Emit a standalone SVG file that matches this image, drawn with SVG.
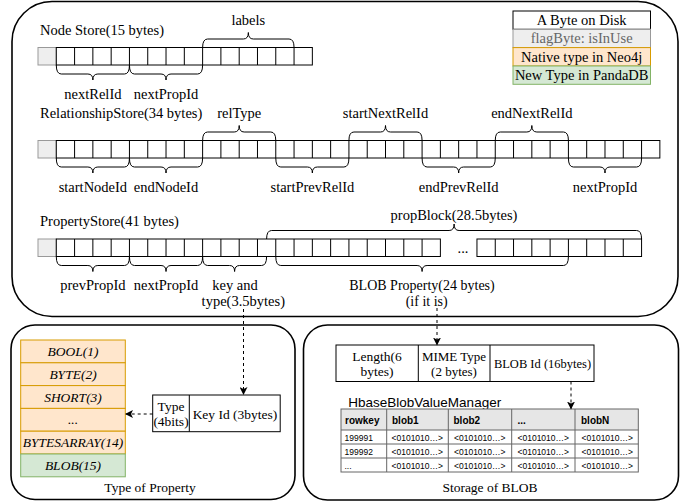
<svg xmlns="http://www.w3.org/2000/svg" width="694" height="502" viewBox="0 0 694 502">
<defs>
<style>
.t{font-family:"Liberation Serif","Times New Roman",serif;font-size:14.5px;fill:#000}
.c{text-anchor:middle}
.it{font-family:"Liberation Serif","Times New Roman",serif;font-size:13.5px;font-style:italic;text-anchor:middle}
.s{font-family:"Liberation Serif","Times New Roman",serif;font-size:13.5px;text-anchor:middle}
.box{fill:none;stroke:#000;stroke-width:1.6}
.cell{fill:#fff;stroke:#000;stroke-width:1}
.ln{fill:none;stroke:#000;stroke-width:1}
.flag{fill:#eeeeee;stroke:#999;stroke-width:1}
.nat{fill:#ffe6cc;stroke:#d79b00;stroke-width:1}
.new{fill:#d5e8d4;stroke:#82b366;stroke-width:1}
.br{fill:none;stroke:#000;stroke-width:1}
.dash{fill:none;stroke:#000;stroke-width:1;stroke-dasharray:3 3}
.th{font-family:"Liberation Sans",Arial,sans-serif;font-size:10px;font-weight:bold}
.td{font-family:"Liberation Sans",Arial,sans-serif;font-size:8.5px}
.tbl{fill:none;stroke:#666;stroke-width:1}
</style>
<marker id="arr" markerWidth="8" markerHeight="8" refX="7" refY="4" orient="auto" markerUnits="userSpaceOnUse">
<path d="M0,0 L8,4 L0,8 L2,4 z" fill="#000"/>
</marker>
</defs>

<g id="disk-layout">
<rect class="box" x="12" y="1.5" width="666" height="315" rx="40"/>
</g>

<g id="legend">
<rect x="513" y="11" width="137.5" height="18.3" fill="#fff" stroke="#000"/>
<rect class="flag" x="513" y="29.3" width="137.5" height="18.3"/>
<rect class="nat" x="513" y="47.6" width="137.5" height="18.4"/>
<rect class="new" x="513" y="66" width="137.5" height="18.3"/>
<text class="t c" x="581.7" y="25">A Byte on Disk</text>
<text class="t c" x="581.7" y="43.3" style="fill:#666">flagByte: isInUse</text>
<text class="t c" x="581.7" y="61.7">Native type in Neo4j</text>
<text class="t c" x="581.7" y="80">New Type in PandaDB</text>
</g>

<g id="node-store">
<text class="t" x="40" y="34.5">Node Store(15 bytes)</text>
<rect class="flag" x="38" y="47.5" width="18.29" height="17.5"/>
<rect class="cell" x="56.29" y="47.5" width="256.06" height="17.5"/>
<path class="ln" d="M74.58 47.5V65M92.87 47.5V65M111.16 47.5V65M129.45 47.5V65M147.74 47.5V65M166.03 47.5V65M184.32 47.5V65M202.61 47.5V65M220.9 47.5V65M239.19 47.5V65M257.48 47.5V65M275.77 47.5V65M294.06 47.5V65"/>
<path class="br" d="M56.29 65 Q56.29 74 61.29 74 H87.87 Q92.87 74 92.87 80 Q92.87 74 97.87 74 H124.45 Q129.45 74 129.45 65"/>
<path class="br" d="M129.45 65 Q129.45 74 134.45 74 H161.03 Q166.03 74 166.03 80 Q166.03 74 171.03 74 H197.61 Q202.61 74 202.61 65"/>
<path class="br" d="M202.61 47.5 Q202.61 39 207.61 39 H243.34 Q248.34 39 248.34 32.5 Q248.34 39 253.34 39 H289.06 Q294.06 39 294.06 47.5"/>
<text class="t c" x="248.3" y="25">labels</text>
<text class="t c" x="92.9" y="98.5">nextRelId</text>
<text class="t c" x="166" y="98.5">nextPropId</text>
</g>

<g id="relationship-store">
<text class="t" x="40" y="118">RelationshipStore(34 bytes)</text>
<rect class="flag" x="38" y="140.5" width="18.29" height="17.5"/>
<rect class="cell" x="56.29" y="140.5" width="603.57" height="17.5"/>
<path class="ln" d="M74.58 140.5V158M92.87 140.5V158M111.16 140.5V158M129.45 140.5V158M147.74 140.5V158M166.03 140.5V158M184.32 140.5V158M202.61 140.5V158M220.9 140.5V158M239.19 140.5V158M257.48 140.5V158M275.77 140.5V158M294.06 140.5V158M312.35 140.5V158M330.64 140.5V158M348.93 140.5V158M367.22 140.5V158M385.51 140.5V158M403.8 140.5V158M422.09 140.5V158M440.38 140.5V158M458.67 140.5V158M476.96 140.5V158M495.25 140.5V158M513.54 140.5V158M531.83 140.5V158M550.12 140.5V158M568.41 140.5V158M586.7 140.5V158M604.99 140.5V158M623.28 140.5V158M641.57 140.5V158"/>
<path class="br" d="M56.29 158 Q56.29 167 61.29 167 H87.87 Q92.87 167 92.87 173 Q92.87 167 97.87 167 H124.45 Q129.45 167 129.45 158"/>
<path class="br" d="M129.45 158 Q129.45 167 134.45 167 H161.03 Q166.03 167 166.03 173 Q166.03 167 171.03 167 H197.61 Q202.61 167 202.61 158"/>
<path class="br" d="M275.77 158 Q275.77 167 280.77 167 H307.35 Q312.35 167 312.35 173 Q312.35 167 317.35 167 H343.93 Q348.93 167 348.93 158"/>
<path class="br" d="M422.09 158 Q422.09 167 427.09 167 H453.67 Q458.67 167 458.67 173 Q458.67 167 463.67 167 H490.25 Q495.25 167 495.25 158"/>
<path class="br" d="M568.41 158 Q568.41 167 573.41 167 H599.99 Q604.99 167 604.99 173 Q604.99 167 609.99 167 H636.57 Q641.57 167 641.57 158"/>
<path class="br" d="M202.61 140.5 Q202.61 132 207.61 132 H234.19 Q239.19 132 239.19 125.5 Q239.19 132 244.19 132 H270.77 Q275.77 132 275.77 140.5"/>
<path class="br" d="M348.93 140.5 Q348.93 132 353.93 132 H380.51 Q385.51 132 385.51 125.5 Q385.51 132 390.51 132 H417.09 Q422.09 132 422.09 140.5"/>
<path class="br" d="M495.25 140.5 Q495.25 132 500.25 132 H526.83 Q531.83 132 531.83 125.5 Q531.83 132 536.83 132 H563.41 Q568.41 132 568.41 140.5"/>
<text class="t c" x="239.2" y="118">relType</text>
<text class="t c" x="385.5" y="118">startNextRelId</text>
<text class="t c" x="531.8" y="118">endNextRelId</text>
<text class="t c" x="92.9" y="192">startNodeId</text>
<text class="t c" x="166" y="192">endNodeId</text>
<text class="t c" x="312.4" y="192">startPrevRelId</text>
<text class="t c" x="458.7" y="192">endPrevRelId</text>
<text class="t c" x="605" y="192">nextPropId</text>
</g>

<g id="property-store">
<text class="t" x="40" y="226">PropertyStore(41 bytes)</text>
<rect class="flag" x="38" y="239" width="18.29" height="17.5"/>
<rect class="cell" x="56.29" y="239" width="384.09" height="17.5"/>
<path class="ln" d="M74.58 239V256.5M92.87 239V256.5M111.16 239V256.5M129.45 239V256.5M147.74 239V256.5M166.03 239V256.5M184.32 239V256.5M202.61 239V256.5M220.9 239V256.5M239.19 239V256.5M257.48 239V256.5M275.77 239V256.5M294.06 239V256.5M312.35 239V256.5M330.64 239V256.5M348.93 239V256.5M367.22 239V256.5M385.51 239V256.5M403.8 239V256.5M422.09 239V256.5"/>
<text class="t c" x="463" y="253">...</text>
<rect class="cell" x="476.96" y="239" width="164.61" height="17.5"/>
<path class="ln" d="M495.25 239V256.5M513.54 239V256.5M531.83 239V256.5M550.12 239V256.5M568.41 239V256.5M586.7 239V256.5M604.99 239V256.5M623.28 239V256.5"/>
<path class="br" d="M56.29 256.5 Q56.29 265.5 61.29 265.5 H87.87 Q92.87 265.5 92.87 271.5 Q92.87 265.5 97.87 265.5 H124.45 Q129.45 265.5 129.45 256.5"/>
<path class="br" d="M129.45 256.5 Q129.45 265.5 134.45 265.5 H161.03 Q166.03 265.5 166.03 271.5 Q166.03 265.5 171.03 265.5 H197.61 Q202.61 265.5 202.61 256.5"/>
<path class="br" d="M202.61 256.5 Q202.61 265.5 207.61 265.5 H229.6 Q234.6 265.5 234.6 271.5 Q234.6 265.5 239.6 265.5 H261.6 Q266.6 265.5 266.6 256.5"/>
<path class="br" d="M275.77 256.5 Q275.77 265.5 280.77 265.5 H417.09 Q422.09 265.5 422.09 271.5 Q422.09 265.5 427.09 265.5 H563.41 Q568.41 265.5 568.41 256.5"/>
<path class="br" d="M266.6 239 Q266.6 230.5 271.6 230.5 H449.1 Q454.1 230.5 454.1 224 Q454.1 230.5 459.1 230.5 H636.57 Q641.57 230.5 641.57 239"/>
<text class="t c" x="454" y="220">propBlock(28.5bytes)</text>
<text class="t c" x="92.9" y="290">prevPropId</text>
<text class="t c" x="166" y="290">nextPropId</text>
<text class="t c" x="235" y="290">key and</text>
<text class="t c" x="243.3" y="306">type(3.5bytes)</text>
<text class="t c" x="422" y="290" style="font-size:14px">BLOB Property(24 bytes)</text>
<text class="t c" x="426.7" y="305.5" style="font-size:14px">(if it is)</text>
</g>

<g id="type-of-property">
<rect class="box" x="11" y="325" width="284" height="174.5" rx="24"/>
<rect class="nat" x="20.7" y="340" width="104.6" height="22.8"/>
<rect class="nat" x="20.7" y="362.8" width="104.6" height="22.8"/>
<rect class="nat" x="20.7" y="385.6" width="104.6" height="22.8"/>
<rect class="nat" x="20.7" y="408.4" width="104.6" height="22.8"/>
<rect class="nat" x="20.7" y="431.2" width="104.6" height="22.8"/>
<rect class="new" x="20.7" y="454" width="104.6" height="22.8"/>
<text class="it" x="73" y="356">BOOL(1)</text>
<text class="it" x="73" y="378.8">BYTE(2)</text>
<text class="it" x="73" y="401.6">SHORT(3)</text>
<text class="it" x="73" y="424.4">...</text>
<text class="it" x="73" y="447.2">BYTESARRAY(14)</text>
<text class="it" x="73" y="470">BLOB(15)</text>
<text class="s" x="150" y="492">Type of Property</text>
</g>

<g id="key-type-field">
<rect class="cell" x="152.7" y="395" width="127.5" height="36.7"/>
<path class="ln" d="M189.3 395V431.7"/>
<text class="s" x="171" y="411">Type</text>
<text class="s" x="171" y="425.5">(4bits)</text>
<text class="s" x="235" y="418.5">Key Id (3bytes)</text>
</g>

<g id="storage-of-blob">
<rect class="box" x="303.5" y="325" width="375" height="175" rx="24"/>
<text class="s" x="490" y="492">Storage of  BLOB</text>
</g>

<g id="blob-property-fields">
<rect class="cell" x="336" y="345" width="258" height="36.5"/>
<path class="ln" d="M418.3 345V381.5M490 345V381.5"/>
<text class="s" x="377" y="361">Length(6</text>
<text class="s" x="377" y="376">bytes)</text>
<text class="s" x="454" y="361" style="font-size:13px">MIME Type</text>
<text class="s" x="454" y="376" style="font-size:13px">(2 bytes)</text>
<text class="s" x="542.5" y="368" style="font-size:12.5px">BLOB Id (16bytes)</text>
</g>

<g id="hbase-table">
<text x="348.3" y="407" style="font-family:'Liberation Sans',Arial,sans-serif;font-size:13.5px">HbaseBlobValueManager</text>
<rect x="341" y="409" width="297.3" height="21" fill="#e6e6e6"/>
<rect class="tbl" x="341" y="409" width="297.3" height="63"/>
<path class="tbl" d="M341 430H638.3M341 444H638.3M341 458H638.3M386.7 409V472M448.3 409V472M511.7 409V472M575 409V472"/>
<text class="th" x="345" y="423.5">rowkey</text>
<text class="th" x="392" y="423.5">blob1</text>
<text class="th" x="453.5" y="423.5">blob2</text>
<text class="th" x="517.5" y="423.5">...</text>
<text class="th" x="581" y="423.5">blobN</text>
<text class="td" x="344.5" y="440.5">199991</text>
<text class="td" x="391.5" y="440.5">&lt;0101010…&gt;</text>
<text class="td" x="454" y="440.5">&lt;0101010…&gt;</text>
<text class="td" x="517.5" y="440.5">&lt;0101010…&gt;</text>
<text class="td" x="581.5" y="440.5">&lt;0101010…&gt;</text>
<text class="td" x="344.5" y="454.5">199992</text>
<text class="td" x="391.5" y="454.5">&lt;0101010…&gt;</text>
<text class="td" x="454" y="454.5">&lt;0101010…&gt;</text>
<text class="td" x="517.5" y="454.5">&lt;0101010…&gt;</text>
<text class="td" x="581.5" y="454.5">&lt;0101010…&gt;</text>
<text class="td" x="344.5" y="468.5">...</text>
<text class="td" x="391.5" y="468.5">&lt;0101010…&gt;</text>
<text class="td" x="454" y="468.5">&lt;0101010…&gt;</text>
<text class="td" x="517.5" y="468.5">&lt;0101010…&gt;</text>
<text class="td" x="581.5" y="468.5">&lt;0101010…&gt;</text>
</g>

<g id="connectors">
<path class="dash" d="M243.5 309V394" marker-end="url(#arr)"/>
<path class="dash" d="M437 308V344.5" marker-end="url(#arr)"/>
<path class="dash" d="M152.7 414H126" marker-end="url(#arr)"/>
<path class="dash" d="M571 381.5V408.5" marker-end="url(#arr)"/>
</g>
</svg>
